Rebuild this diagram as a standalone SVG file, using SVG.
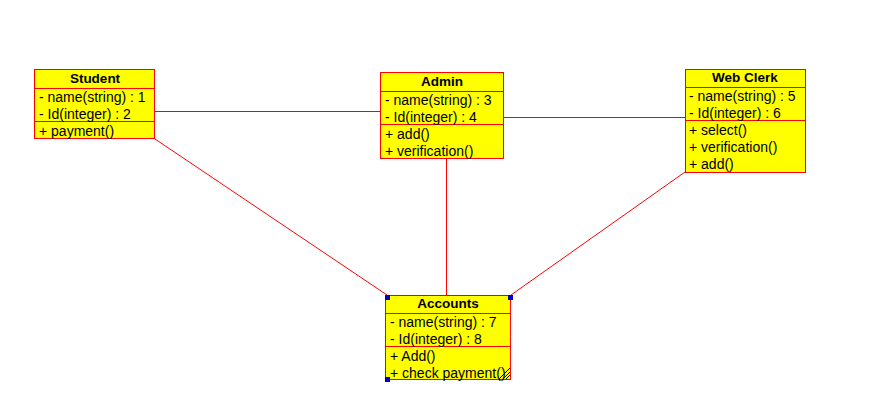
<svg xmlns="http://www.w3.org/2000/svg" width="883" height="413" viewBox="0 0 883 413">
<style>
.box{fill:#ffff00;stroke:#ff0000;stroke-width:1}
.sep{stroke:#ff0000;stroke-width:1}
.t{font-family:"Liberation Sans",Arial,sans-serif;font-size:14px;fill:#000}
.h{font-family:"Liberation Sans",Arial,sans-serif;font-size:13.5px;font-weight:bold;fill:#000;text-anchor:middle}
.c{stroke:#ff0000;stroke-width:1;fill:none}
.hd{fill:#0000cc}
</style>
<rect width="883" height="413" fill="#fff"/>
<g id="connectors">
<line class="c" x1="155" y1="111.5" x2="380" y2="111.5"/>
<line class="c" x1="504" y1="117.5" x2="685" y2="117.5"/>
<line class="c" x1="155" y1="139" x2="387" y2="295"/>
<line class="c" x1="446.5" y1="159" x2="446.5" y2="295"/>
<line class="c" x1="685" y1="172" x2="511" y2="295"/>
</g>
<g id="student">
<rect class="box" x="34.5" y="69.5" width="120" height="69"/>
<line class="sep" x1="34.5" y1="88.5" x2="154.5" y2="88.5"/>
<line class="sep" x1="34.5" y1="121.5" x2="154.5" y2="121.5"/>
<text class="h" x="95" y="83">Student</text>
<text class="t" x="39" y="102">- name(string) : 1</text>
<text class="t" x="39" y="118.5">- Id(integer) : 2</text>
<text class="t" x="39" y="135.5">+ payment()</text>
</g>
<g id="admin">
<rect class="box" x="380.5" y="72.5" width="123" height="86"/>
<line class="sep" x1="380.5" y1="91.5" x2="503.5" y2="91.5"/>
<line class="sep" x1="380.5" y1="124.5" x2="503.5" y2="124.5"/>
<text class="h" x="442" y="86">Admin</text>
<text class="t" x="385" y="104.5">- name(string) : 3</text>
<text class="t" x="385" y="121.5">- Id(integer) : 4</text>
<text class="t" x="385" y="138.5">+ add()</text>
<text class="t" x="385" y="155.5">+ verification()</text>
</g>
<g id="webclerk">
<rect class="box" x="685.5" y="69.5" width="120" height="103"/>
<line class="sep" x1="685.5" y1="87.5" x2="805.5" y2="87.5"/>
<line class="sep" x1="685.5" y1="120.5" x2="805.5" y2="120.5"/>
<text class="h" x="745" y="82">Web Clerk</text>
<text class="t" x="689" y="100.5">- name(string) : 5</text>
<text class="t" x="689" y="117.5">- Id(integer) : 6</text>
<text class="t" x="689" y="134.5">+ select()</text>
<text class="t" x="689" y="151.5">+ verification()</text>
<text class="t" x="689" y="168.5">+ add()</text>
</g>
<g id="accounts">
<rect class="box" x="385.5" y="295.5" width="125" height="84"/>
<line class="sep" x1="385.5" y1="313.5" x2="510.5" y2="313.5"/>
<line class="sep" x1="385.5" y1="346.5" x2="510.5" y2="346.5"/>
<text class="h" x="448" y="308">Accounts</text>
<text class="t" x="390" y="326.5">- name(string) : 7</text>
<text class="t" x="390" y="343.5">- Id(integer) : 8</text>
<text class="t" x="390" y="360.5">+ Add()</text>
<text class="t" x="390" y="377.5">+ check payment()</text>
<rect class="hd" x="385" y="295" width="5" height="5"/>
<rect class="hd" x="508" y="295" width="5" height="5"/>
<rect class="hd" x="385" y="377" width="5" height="5"/>
<path d="M499 379 L510 368 M503 379 L510 372 M506 379 L510 375" stroke="#000" stroke-width="1"/>
</g>
</svg>
